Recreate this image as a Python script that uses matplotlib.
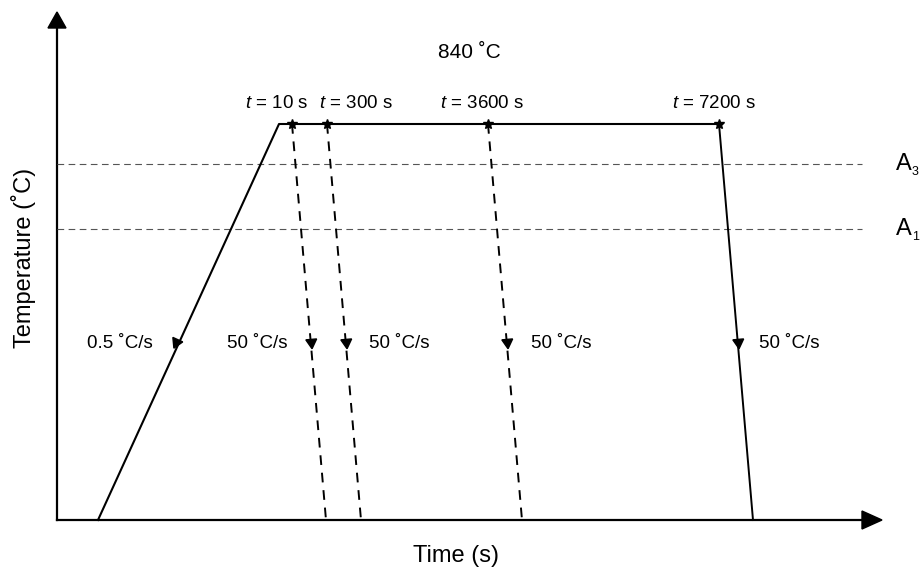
import numpy as np
import matplotlib
matplotlib.use('Agg')
import matplotlib.pyplot as plt

plt.rcParams['font.family'] = ['Liberation Sans', 'DejaVu Sans']
plt.rcParams['mathtext.fontset'] = 'custom'
plt.rcParams['mathtext.rm'] = 'Liberation Sans'
plt.rcParams['mathtext.it'] = 'Liberation Sans:italic'

# ── schematic geometry (canvas units, y grows downward) ──
axis_origin = (57, 520)
axis_x_end = 882
axis_y_end = 12
plateau_y = 124
heat_start_x = 98
heat_end_x = 279
hold_labels = ['10', '300', '3600', '7200']
hold_x = [292, 327, 488, 719]
hold_label_x = [277, 356, 482, 714]
quench_end_x = [326, 361, 522, 753]
quench_dashed = [True, True, True, False]
arrow_y = 342
rate_labels = ['50 ˚C/s', '50 ˚C/s', '50 ˚C/s', '50 ˚C/s']
rate_label_x = [227, 369, 531, 759]
heat_rate_label = '0.5 ˚C/s'
crit_subs = ['3', '1']
crit_y = [164, 229]

fig = plt.figure(figsize=(9.21, 5.72), dpi=100)
ax = fig.add_axes([0, 0, 1, 1])
ax.set_xlim(0, 921)
ax.set_ylim(572, 0)
ax.axis('off')

x0, y0 = axis_origin
# axes with arrow heads
ax.plot([x0, axis_x_end - 18], [y0, y0], color='k', lw=1.6)
ax.plot([x0, x0], [y0, axis_y_end + 16], color='k', lw=1.6)
ax.fill([axis_x_end - 20, axis_x_end, axis_x_end - 20], [y0 - 9, y0, y0 + 9], color='k')
ax.fill([x0 - 9, x0, x0 + 9], [axis_y_end + 16, axis_y_end, axis_y_end + 16], color='k')

# critical temperatures
for sub, cy in zip(crit_subs, crit_y):
    ax.plot([x0, 862], [cy, cy], color='#555555', lw=0.8, ls=(0, (6, 4)))
    ax.text(896, cy, 'A', fontsize=17, ha='left', va='center')
    ax.text(912, cy + 8, sub, fontsize=9, ha='left', va='center')

# heating ramp + plateau
ax.plot([heat_start_x, heat_end_x, hold_x[-1]], [y0, plateau_y, plateau_y], color='k', lw=1.5)
ang = np.degrees(np.arctan2(-(y0 - plateau_y), heat_start_x - heat_end_x)) - 90
fr = (arrow_y - plateau_y) / (y0 - plateau_y)
ax.plot(heat_end_x + fr * (heat_start_x - heat_end_x) - 3, arrow_y, marker=(3, 0, ang),
        color='k', ms=9)
ax.text(87, arrow_y + 1, heat_rate_label, fontsize=13.5, ha='left', va='center')

# quenches
for hx, ex, dashed, lab, lx in zip(hold_x, quench_end_x, quench_dashed, rate_labels, rate_label_x):
    ls = (0, (5, 4)) if dashed else '-'
    ax.plot([hx, ex], [plateau_y, y0], color='k', lw=1.4, ls=ls)
    ang = np.degrees(np.arctan2(-(y0 - plateau_y), ex - hx)) - 90
    fr = (arrow_y - plateau_y) / (y0 - plateau_y)
    ax.plot(hx + fr * (ex - hx), arrow_y, marker=(3, 0, ang), color='k', ms=9)
    ax.plot(hx, plateau_y, marker='*', color='k', ms=7)
    ax.text(lx, arrow_y + 1, lab, fontsize=13.5, ha='left', va='center')

# hold time labels
for lx, t in zip(hold_label_x, hold_labels):
    ax.text(lx, 103, '$t$ = ' + t + ' s', fontsize=13.5, ha='center', va='center')

ax.text(469, 53, '840 ˚C', fontsize=15, ha='center', va='center')
ax.text(24, 258, 'Temperature (˚C)', fontsize=17, rotation=90, ha='center', va='center')
ax.text(456, 556, 'Time (s)', fontsize=17, ha='center', va='center')

fig.savefig('out.png', dpi=100)
